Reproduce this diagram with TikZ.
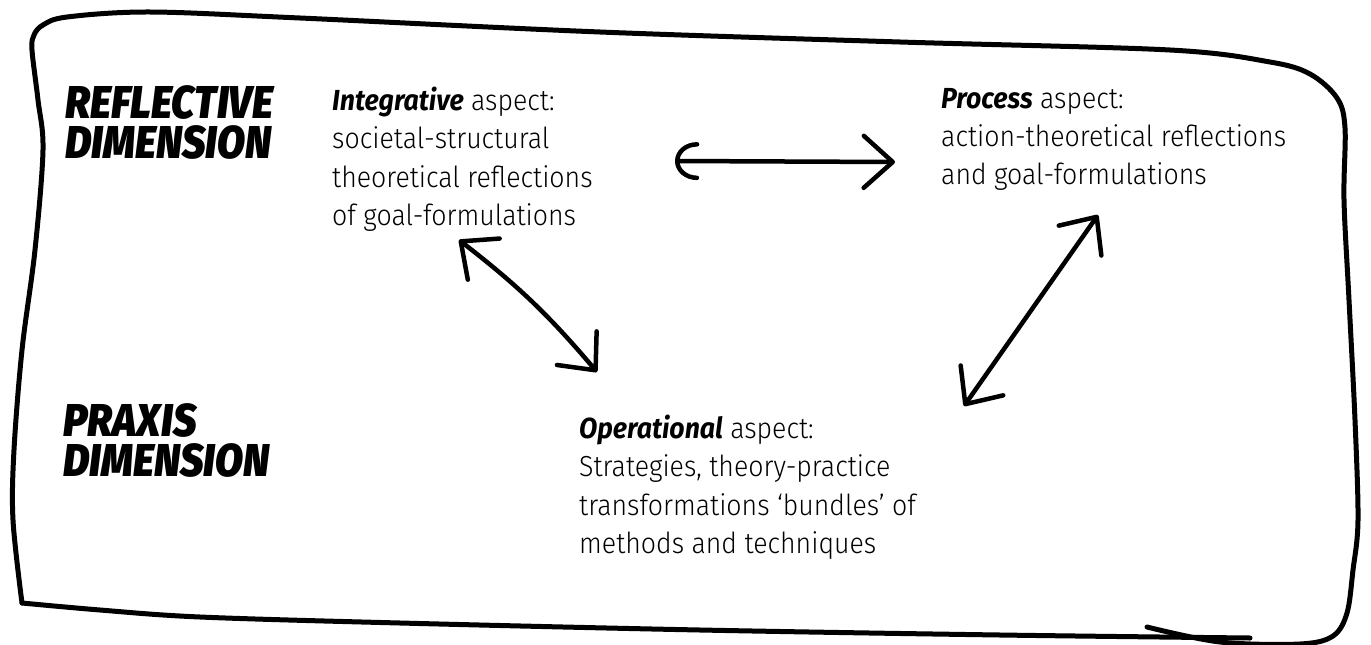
\documentclass[tikz,border=0pt]{standalone}
\usepackage{fontspec}
% body text: a light condensed sans, falling back to the regular weight
\IfFontExistsTF{Fira Sans Light}
  {\setmainfont{Fira Sans Light}[FakeStretch=0.92, BoldItalicFont={Fira Sans Bold Italic}]}
  {\IfFontExistsTF{Fira Sans Book}
     {\setmainfont{Fira Sans Book}[FakeStretch=0.92, BoldItalicFont={Fira Sans Bold Italic}]}
     {\setmainfont{Fira Sans}[FakeStretch=0.92]}}
% heavy italic for the dimension headings
\IfFontExistsTF{Fira Sans Black Italic}
  {\newfontfamily\brushfont{Fira Sans Black Italic}[FakeStretch=0.89, BoldFont={Fira Sans Black Italic}, ItalicFont={Fira Sans Black Italic}, BoldItalicFont={Fira Sans Black Italic}]}
  {\IfFontExistsTF{Fira Sans ExtraBold Italic}
     {\newfontfamily\brushfont{Fira Sans ExtraBold Italic}[FakeStretch=0.9, BoldFont={Fira Sans ExtraBold Italic}, ItalicFont={Fira Sans ExtraBold Italic}, BoldItalicFont={Fira Sans ExtraBold Italic}]}
     {\newfontfamily\brushfont{Fira Sans}[FakeStretch=0.9]}}
\usetikzlibrary{arrows.meta}

\begin{document}
\begin{tikzpicture}[x=1pt,y=-1pt,
  frame/.style={line width=5pt, line cap=round, line join=round},
  conn/.style={line width=4.5pt, line cap=round, line join=round},
  body/.style={anchor=north west, inner sep=0pt, align=left, font=\fontsize{29}{38.3}\selectfont},
  dimlabel/.style={anchor=north west, inner sep=0pt, align=left, font=\brushfont\bfseries\itshape\fontsize{46}{40}\selectfont},
  barb/.tip={Straight Barb[length=29pt,width=52pt,round]},
  arcbarb/.tip={Arc Barb[length=22pt,width=38pt,round]},
]
\useasboundingbox (0,0) rectangle (1371,645);

% hand-drawn outer frame
\draw[frame] plot[smooth, tension=0.55] coordinates {(1147,627) (1220,642) (1300,644) (1333,636) (1347,613) (1353,570) (1358,520) (1355,420) (1349,300) (1344,200) (1345,128) (1337,98) (1310,74) (1270,62) (1170,50) (900,42) (600,32) (300,18) (150,12) (67,17) (43,25) (34,35) (32,50) (38,100) (43,150) (35,250) (22,350) (14,450) (13,520) (22,603)};
\draw[frame] plot[smooth, tension=0.55] coordinates {(22,603) (100,610) (200,617) (400,623) (700,630) (1000,635) (1250,638)};

% dimension headings
\node[dimlabel] (refl) at (65,85) {REFLECTIVE\\DIMENSION};
\node[dimlabel] (prax) at (63,403) {PRAXIS\\DIMENSION};

% aspect texts
\node[body] (integ) at (332,87) {\textbf{\textit{Integrative}} aspect:\\societal-structural\\theoretical reflections\\of goal-formulations};
\node[body] (proc) at (941,88) {\textbf{\textit{Process}} aspect:\\action-theoretical reflections\\and goal-formulations};
\node[body] (oper) at (579,415) {\textbf{\textit{Operational}} aspect:\\Strategies, theory-practice\\transformations `bundles' of\\methods and techniques};

% arrow end points
\coordinate (h1a) at (675,161);
\coordinate (h1b) at (895,162);
\coordinate (d1a) at (459,240);
\coordinate (d1b) at (597,372);
\coordinate (d2a) at (1098,215);
\coordinate (d2b) at (964,406);

% double-headed connectors between the aspects
\draw[conn, arcbarb-barb] (h1a) -- (h1b);
\draw[conn, barb-barb] (d1a) to[bend left=6] (d1b);
\draw[conn, barb-barb] (d2a) -- (d2b);
\end{tikzpicture}
\end{document}
